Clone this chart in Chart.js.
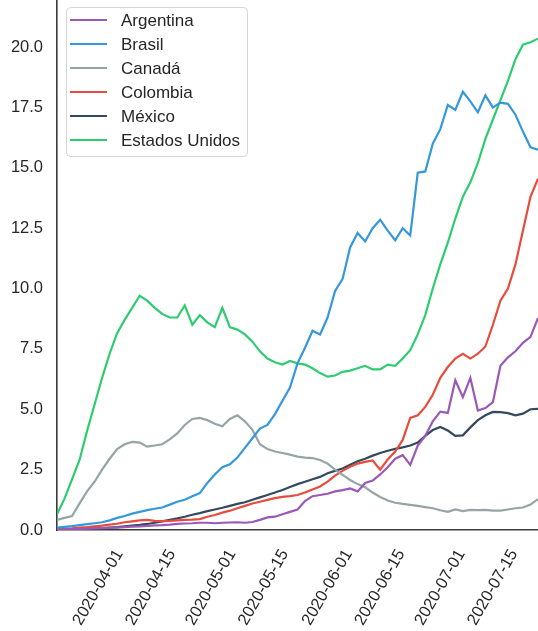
<!DOCTYPE html>
<html>
<head>
<meta charset="utf-8">
<script src="https://cdn.jsdelivr.net/npm/chart.js@4/dist/chart.umd.min.js"></script>
<style>
  html, body { margin: 0; padding: 0; background: #fff; overflow: hidden; }
  canvas { display: block; }
</style>
</head>
<body>
<canvas id="grafico" width="538" height="631"></canvas>
<script>
// fechas (cada 2 dias)
var fechas = [
  '2020-03-21','2020-03-23','2020-03-25','2020-03-27','2020-03-29','2020-03-31',
  '2020-04-02','2020-04-04','2020-04-06','2020-04-08','2020-04-10','2020-04-12','2020-04-14',
  '2020-04-16','2020-04-18','2020-04-20','2020-04-22','2020-04-24','2020-04-26','2020-04-28','2020-04-30',
  '2020-05-02','2020-05-04','2020-05-06','2020-05-08','2020-05-10','2020-05-12','2020-05-14',
  '2020-05-16','2020-05-18','2020-05-20','2020-05-22','2020-05-24','2020-05-26','2020-05-28','2020-05-30',
  '2020-06-01','2020-06-03','2020-06-05','2020-06-07','2020-06-09','2020-06-11','2020-06-13',
  '2020-06-15','2020-06-17','2020-06-19','2020-06-21','2020-06-23','2020-06-25','2020-06-27','2020-06-29',
  '2020-07-01','2020-07-03','2020-07-05','2020-07-07','2020-07-09','2020-07-11','2020-07-13',
  '2020-07-15','2020-07-17','2020-07-19','2020-07-21','2020-07-23','2020-07-25','2020-07-27'
];

var argentina = [
  0.02,0.03,0.04,0.05,0.06,0.07,0.08,0.09,0.10,0.12,0.14,0.15,0.17,0.19,0.20,0.22,
  0.25,0.27,0.28,0.30,0.30,0.28,0.30,0.31,0.32,0.30,0.33,0.42,0.52,0.55,0.65,0.75,
  0.85,1.20,1.40,1.45,1.50,1.60,1.65,1.72,1.60,1.95,2.05,2.30,2.60,2.95,3.10,2.70,
  3.50,3.90,4.50,4.90,4.85,6.20,5.50,6.30,4.95,5.05,5.30,6.80,7.15,7.40,7.75,8.00,8.78
];
var brasil = [
  0.10,0.13,0.16,0.20,0.24,0.28,0.32,0.40,0.50,0.58,0.68,0.75,0.82,0.88,0.93,1.05,
  1.17,1.25,1.40,1.53,1.95,2.30,2.60,2.72,3.00,3.40,3.80,4.20,4.35,4.80,5.35,5.90,
  6.90,7.55,8.25,8.10,8.80,9.90,10.40,11.70,12.30,11.95,12.50,12.85,12.40,12.00,12.50,12.20,
  14.80,14.85,16.00,16.60,17.60,17.40,18.15,17.75,17.30,18.00,17.50,17.70,17.65,17.20,16.50,15.85,15.75
];
var canada = [
  0.42,0.50,0.58,1.10,1.60,2.00,2.50,2.95,3.35,3.55,3.65,3.62,3.45,3.50,3.55,3.75,
  4.00,4.35,4.60,4.64,4.55,4.40,4.30,4.60,4.75,4.50,4.15,3.55,3.35,3.25,3.19,3.12,
  3.04,3.00,2.98,2.90,2.75,2.50,2.28,2.07,1.90,1.77,1.55,1.37,1.22,1.13,1.08,1.04,
  1.00,0.95,0.90,0.82,0.75,0.85,0.78,0.83,0.82,0.83,0.80,0.80,0.85,0.90,0.93,1.05,1.28
];
var colombia = [
  0.02,0.05,0.07,0.10,0.12,0.15,0.18,0.22,0.26,0.32,0.36,0.40,0.42,0.38,0.37,0.38,
  0.40,0.42,0.43,0.45,0.55,0.62,0.72,0.80,0.90,1.00,1.10,1.17,1.25,1.32,1.37,1.40,
  1.45,1.55,1.68,1.80,2.00,2.25,2.45,2.62,2.75,2.82,2.88,2.50,2.92,3.25,3.73,4.64,
  4.75,5.10,5.60,6.30,6.75,7.10,7.30,7.10,7.30,7.60,8.50,9.50,10.00,11.00,12.40,13.80,14.55
];
var mexico = [
  0.02,0.03,0.04,0.05,0.06,0.07,0.08,0.10,0.12,0.15,0.18,0.21,0.25,0.30,0.36,0.42,
  0.48,0.55,0.63,0.70,0.78,0.85,0.92,1.00,1.08,1.15,1.25,1.35,1.45,1.55,1.66,1.78,
  1.90,2.00,2.10,2.20,2.35,2.45,2.55,2.70,2.85,2.95,3.08,3.19,3.28,3.36,3.42,3.50,
  3.62,3.90,4.14,4.27,4.12,3.90,3.92,4.25,4.55,4.75,4.89,4.88,4.84,4.75,4.82,5.00,5.02
];
var estadosUnidos = [
  0.65,1.30,2.10,2.90,4.10,5.20,6.30,7.30,8.15,8.70,9.20,9.70,9.50,9.20,8.95,8.80,
  8.80,9.30,8.50,8.90,8.60,8.40,9.20,8.40,8.30,8.10,7.80,7.40,7.10,6.95,6.85,7.00,
  6.90,6.85,6.70,6.50,6.35,6.40,6.55,6.60,6.70,6.80,6.65,6.65,6.85,6.80,7.10,7.45,
  8.10,8.90,10.00,11.00,11.90,12.90,13.80,14.40,15.20,16.20,17.00,17.80,18.60,19.50,20.10,20.20,20.35
];

var paises = ['Argentina', 'Brasil', 'Canadá', 'Colombia', 'México', 'Estados Unidos'];
var colores = ['#9b59b6', '#3498db', '#95a5a6', '#e74c3c', '#34495e', '#2ecc71'];
var series = [argentina, brasil, canada, colombia, mexico, estadosUnidos];

var ticksX = ['2020-04-01','2020-04-15','2020-05-01','2020-05-15','2020-06-01','2020-06-15','2020-07-01','2020-07-15'];
var ticksY = [0, 2.5, 5, 7.5, 10, 12.5, 15, 17.5, 20];
var inicioX = '2020-03-21';
var finX = '2020-07-27';
var maxY = 21.95;

// dias desde el 2020-04-01
var base = Date.parse('2020-04-01');
function dia(f){ return (Date.parse(f) - base) / 864e5; }

var fuente = '"Liberation Sans", Arial, sans-serif';

// leyenda dentro del grafico, como la de matplotlib
var leyenda = {
  id: 'leyenda',
  afterDraw: function(chart){
    var ctx = chart.ctx;
    ctx.save();
    ctx.beginPath();
    ctx.roundRect(66.5, 7.5, 181, 149, 4);
    ctx.fillStyle = 'rgba(255,255,255,0.8)';
    ctx.fill();
    ctx.strokeStyle = '#d5d5d5';
    ctx.lineWidth = 1;
    ctx.stroke();
    chart.data.datasets.forEach(function(ds, i){
      var yy = 20 + i * 24;
      ctx.strokeStyle = ds.borderColor;
      ctx.lineWidth = 2.2;
      ctx.beginPath();
      ctx.moveTo(70, yy);
      ctx.lineTo(107, yy);
      ctx.stroke();
      ctx.fillStyle = '#262626';
      ctx.font = '17px ' + fuente;
      ctx.textBaseline = 'middle';
      ctx.textAlign = 'left';
      ctx.fillText(ds.label, 121, yy + 1);
    });
    ctx.restore();
  }
};

var datasets = paises.map(function(p, i){
  return {
    label: p,
    data: series[i].map(function(v, j){ return { x: dia(fechas[j]), y: v }; }),
    borderColor: colores[i],
    borderWidth: 2.2,
    pointRadius: 0,
    tension: 0,
    fill: false
  };
});

var ctx = document.getElementById('grafico').getContext('2d');
new Chart(ctx, {
  type: 'line',
  data: { datasets: datasets },
  options: {
    responsive: false,
    animation: false,
    layout: { padding: 0 },
    scales: {
      x: {
        type: 'linear',
        min: dia(inicioX),
        max: dia(finX),
        grid: { display: false, drawTicks: false },
        border: { display: true, color: '#3a3a3a', width: 1.6 },
        ticks: {
          autoSkip: false,
          minRotation: 60,
          maxRotation: 60,
          padding: 16,
          labelOffset: 21,
          color: '#262626',
          font: { family: fuente, size: 16.5 },
          callback: function(v){
            var k = ticksX.map(dia).indexOf(v);
            return k >= 0 ? ticksX[k] : '';
          }
        },
        afterBuildTicks: function(s){ s.ticks = ticksX.map(function(t){ return { value: dia(t) }; }); },
        afterFit: function(s){ s.height = 101; s.paddingLeft = 0; s.paddingRight = 0; }
      },
      y: {
        min: 0,
        max: maxY,
        grid: { display: false, drawTicks: false },
        border: { display: true, color: '#3a3a3a', width: 1.6 },
        ticks: {
          padding: 14,
          color: '#262626',
          font: { family: fuente, size: 16.5 },
          callback: function(v){ return v.toFixed(1); }
        },
        afterBuildTicks: function(s){ s.ticks = ticksY.map(function(t){ return { value: t }; }); },
        afterFit: function(s){ s.width = 57; s.paddingTop = 0; s.paddingBottom = 0; }
      }
    },
    plugins: {
      legend: { display: false },
      tooltip: { enabled: false }
    }
  },
  plugins: [leyenda]
});
</script>
</body>
</html>
